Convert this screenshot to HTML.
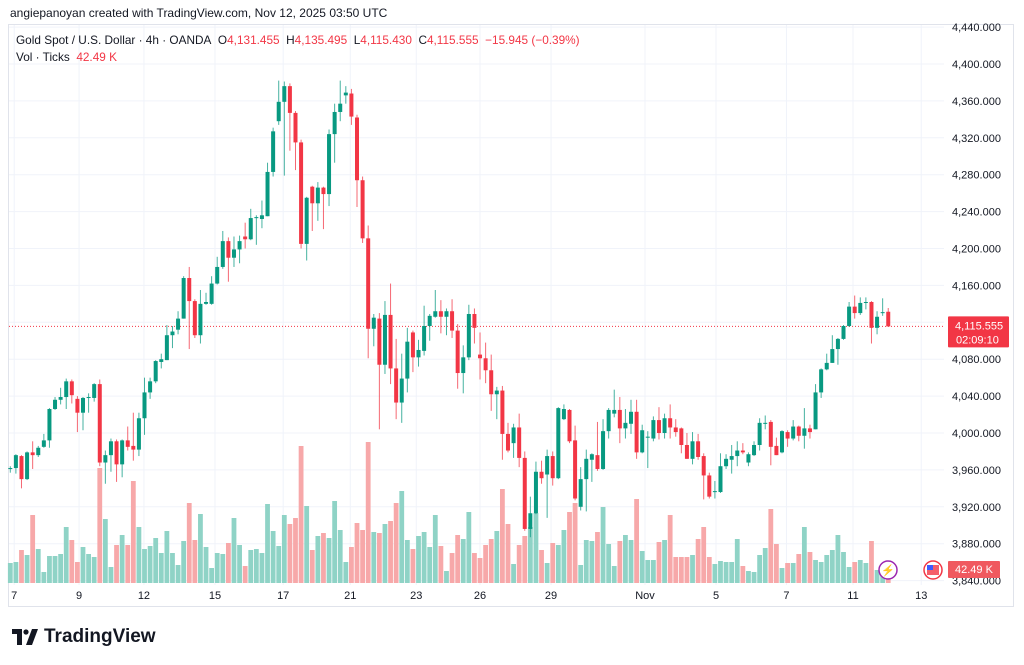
<!DOCTYPE html>
<html><head><meta charset="utf-8">
<style>
html,body{margin:0;padding:0;background:#fff;}
body{width:1024px;height:665px;overflow:hidden;position:relative;font-family:"Liberation Sans",sans-serif;}
#credit{position:absolute;left:10px;top:6px;font-size:12px;color:#131722;}
#legend1{position:absolute;left:16px;top:33px;font-size:11.8px;color:#131722;white-space:nowrap;}
#legend2{position:absolute;left:16px;top:50px;font-size:11.8px;color:#131722;}
.r{color:#f23645;}
#logo{position:absolute;left:12px;top:626px;font-size:19px;font-weight:bold;color:#131722;display:flex;align-items:center;gap:6px;}
svg{position:absolute;left:0;top:0;}
</style></head><body>
<div id="credit">angiepanoyan created with TradingView.com, Nov 12, 2025 03:50 UTC</div>
<svg id="chart" width="1024" height="665"></svg>
<div id="legend1">Gold Spot / U.S. Dollar · 4h · OANDA&nbsp; O<span class="r">4,131.455</span>&nbsp; H<span class="r">4,135.495</span>&nbsp; L<span class="r">4,115.430</span>&nbsp; C<span class="r">4,115.555</span>&nbsp; <span class="r">−15.945 (−0.39%)</span></div>
<div id="legend2">Vol · Ticks&nbsp; <span class="r">42.49 K</span></div>
<div id="logo"><svg width="26" height="16" viewBox="0 0 26 16" style="position:static"><path d="M0 0h10v16H5V5H0z M14 16l6-16h6l-6 16z" fill="#131722"/><circle cx="14" cy="3" r="2.6" fill="#131722"/></svg><span>TradingView</span></div>
<script>
const ohlc = [
[3961,3964,3957,3962],[3962,3977,3956,3976],[3975,3976,3940,3950],[3950,3980,3949,3979],[3979,3991,3961,3976],
[3976,3986,3974,3984],[3985,3999,3984,3992],[3992,4027,3984,4026],[4026,4039,4025,4036],[4036,4049,4031,4039],
[4039,4059,4026,4056],[4056,4058,4032,4041],[4037,4040,4001,4022],[4022,4039,4003,4038],[4038,4043,4022,4039],
[4038,4054,4034,4053],[4053,4058,3964,3968],[3968,3981,3945,3976],[3976,3994,3958,3991],[3991,3993,3947,3966],
[3966,3993,3952,3992],[3992,4007,3981,3985],[3986,4022,3970,3982],[3982,4022,3975,4016],[4016,4060,3998,4044],
[4044,4060,4037,4056],[4056,4079,4054,4078],[4077,4086,4070,4080],[4079,4117,4079,4106],[4106,4116,4092,4110],
[4112,4132,4107,4124],[4124,4170,4124,4168],[4168,4180,4091,4143],[4143,4145,4103,4106],[4106,4155,4097,4140],
[4140,4152,4139,4142],[4140,4170,4139,4162],[4162,4191,4161,4180],[4180,4219,4178,4208],[4208,4212,4164,4190],
[4190,4213,4180,4199],[4199,4214,4184,4208],[4213,4228,4200,4210],[4210,4243,4209,4233],[4233,4236,4204,4234],
[4232,4252,4222,4236],[4235,4293,4235,4283],[4283,4331,4278,4327],[4338,4382,4334,4359],[4359,4381,4279,4376],
[4376,4379,4306,4347],[4347,4349,4285,4315],[4315,4318,4200,4205],[4205,4256,4187,4255],[4267,4268,4219,4249],
[4249,4272,4230,4266],[4266,4267,4221,4259],[4259,4329,4246,4324],[4324,4357,4293,4348],[4348,4382,4338,4357],
[4366,4376,4357,4369],[4368,4373,4334,4343],[4342,4345,4245,4274],[4274,4278,4206,4211],[4211,4225,4081,4113],
[4113,4129,4094,4125],[4124,4130,4004,4074],[4074,4143,4064,4128],[4128,4162,4053,4070],[4070,4102,4015,4033],
[4033,4086,4011,4059],[4059,4114,4044,4099],[4109,4111,4066,4082],[4082,4101,4072,4090],[4089,4138,4084,4116],
[4116,4129,4100,4127],[4126,4155,4125,4132],[4132,4144,4108,4126],[4126,4135,4106,4132],[4132,4145,4103,4111],
[4111,4118,4048,4065],[4065,4095,4043,4082],[4082,4139,4079,4129],[4129,4135,4097,4114],[4085,4109,4058,4081],
[4081,4098,4054,4068],[4068,4085,4024,4042],[4042,4050,4015,4046],[4046,4051,3971,3999],[3999,4011,3979,3981],
[3989,4010,3973,4006],[4006,4021,3963,3973],[3973,3980,3894,3896],[3896,3931,3887,3913],[3913,3969,3912,3958],
[3958,3970,3945,3951],[3955,3982,3908,3975],[3975,3980,3943,3951],[3951,4028,3950,4027],[4015,4031,4014,4026],
[4025,4026,3989,3991],[3992,4008,3927,3929],[3920,3963,3916,3950],[3950,3982,3915,3972],[3971,3978,3947,3977],
[3976,4012,3959,3961],[3961,4015,3960,4002],[4002,4027,3994,4025],[4021,4047,4017,4025],[4025,4039,3989,4005],
[4005,4026,3994,4011],[4010,4036,3999,4023],[4023,4036,3972,3979],[3979,4009,3978,4003],[3995,4002,3962,3996],
[3994,4018,3991,4014],[4014,4028,3993,4000],[4000,4021,3994,4016],[4016,4031,3994,4006],[4006,4015,3996,4001],
[4005,4006,3978,3987],[3987,4000,3972,3972],[3972,4001,3966,3991],[3991,3999,3971,3974],[3975,3978,3928,3954],
[3954,3957,3929,3931],[3936,3948,3929,3937],[3936,3978,3935,3964],[3964,3977,3961,3972],[3971,3987,3956,3975],
[3975,3991,3964,3981],[3981,3989,3977,3979],[3968,3979,3964,3977],[3976,3991,3975,3987],[3987,4016,3981,4011],
[4010,4019,4004,4011],[4012,4014,3965,3985],[3986,3995,3976,3976],[3979,4003,3978,4002],[4001,4003,3985,3994],
[3994,4014,3992,4007],[4007,4008,3991,3997],[3997,4027,3983,4005],[4005,4009,3994,4001],[4004,4053,4004,4044],
[4044,4070,4038,4069],[4069,4086,4068,4076],[4076,4106,4076,4091],[4091,4103,4074,4102],[4102,4117,4101,4116],
[4116,4142,4115,4137],[4137,4149,4124,4130],[4130,4147,4128,4141],[4141,4147,4134,4142],[4142,4143,4097,4114],
[4114,4132,4107,4126],[4131,4146,4127,4131],[4131.455,4135.495,4115.43,4115.555]
];
const volumeK = [80,84,132,112,272,136,44,108,108,116,224,172,84,144,116,104,460,256,64,152,192,152,408,224,136,148,180,120,208,120,72,168,320,172,276,144,60,120,116,160,
260,152,68,132,136,120,316,208,148,272,236,260,548,308,132,188,200,180,328,212,84,144,240,212,564,204,200,236,248,320,368,172,136,188,204,144,272,148,48,120,
192,176,284,120,100,152,176,208,376,236,76,152,188,224,280,132,80,160,152,212,284,320,72,172,168,204,304,156,68,168,192,172,336,128,92,92,164,172,272,104,
104,104,112,176,224,104,76,88,84,84,176,68,48,44,112,140,296,156,60,80,80,116,224,124,92,84,112,132,192,124,64,84,92,80,168,52,32,42.49];
const priceTicks = [4440,4400,4360,4320,4280,4240,4200,4160,4120,4080,4040,4000,3960,3920,3880,3840];
const dateLabels = ["7","9","12","15","17","21","23","26","29","Nov","5","7","11","13"];
const dateTickIndex = [0.7,12.3,23.9,36.6,48.8,60.8,72.6,84,96.7,113.5,126.2,138.8,150.7,162.9];
const lastPrice = 4115.555;

const NS="http://www.w3.org/2000/svg";
const svg=document.getElementById('chart');
const yOf=p=>433+(4000-p)*0.9225;
const xOf=i=>10.3+i*5.592;
const volBase=583, volScale=0.25;
function mk(tag,attrs,parent){const e=document.createElementNS(NS,tag);for(const k in attrs)e.setAttribute(k,attrs[k]);(parent||svg).appendChild(e);return e;}

const frame=mk('rect',{x:8.5,y:24.5,width:1005,height:582,fill:'none',stroke:'#e0e3eb'});


priceTicks.forEach(p=>{
  const g=mk('line',{x1:9,x2:944,y1:yOf(p),y2:yOf(p),stroke:'#f0f3fa'});
  
  
});
dateTickIndex.forEach(i=>{
  const g=mk('line',{x1:xOf(i),x2:xOf(i),y1:25,y2:585,stroke:'#f0f3fa'});
  
  
});
volumeK.forEach((v,i)=>{
  const up=ohlc[i][3]>=ohlc[i][0];
  const h=v*volScale;
  const b=mk('rect',{x:xOf(i)-2.4,y:volBase-h,width:4.8,height:h,fill:up?'#8fd3c6':'#f7a8a9'});
  
  
});
const lp=mk('line',{x1:9,x2:944,y1:yOf(lastPrice),y2:yOf(lastPrice),stroke:'#f23645','stroke-width':1,'stroke-dasharray':'1 2'});


ohlc.forEach((c,i)=>{
  const [o,h,l,cl]=c;const up=cl>=o;const col=up?'#089981':'#f23645';
  const x=xOf(i);
  const w=mk('line',{x1:x,x2:x,y1:yOf(h),y2:yOf(l),stroke:col,'stroke-width':1,opacity:0.75});
  
  
  const top=yOf(Math.max(o,cl)),bot=yOf(Math.min(o,cl));
  const r=mk('rect',{x:x-2,y:top,width:4,height:Math.max(1,bot-top),fill:col});
  
  
});
priceTicks.forEach(p=>{
  const t=mk('text',{x:952,y:yOf(p)+4,'font-size':11,fill:'#131722','font-family':'Liberation Sans, sans-serif'});
  t.textContent=p.toLocaleString('en-US')+'.000';
  
  
});
dateLabels.forEach((d,k)=>{
  const t=mk('text',{x:xOf(dateTickIndex[k]),y:599,'font-size':11,fill:'#131722','text-anchor':'middle','font-family':'Liberation Sans, sans-serif'});
  t.textContent=d;
  
  
});
const ly=yOf(lastPrice);
const badge=mk('rect',{x:948,y:ly-10,width:61,height:31,fill:'#f23645',rx:1});


const t1=mk('text',{x:955,y:ly+3,'font-size':11,fill:'#fff','font-family':'Liberation Sans, sans-serif'});t1.textContent='4,115.555';


const t2=mk('text',{x:956,y:ly+17,'font-size':11,fill:'#fff','font-family':'Liberation Sans, sans-serif'});t2.textContent='02:09:10';


const vb=mk('rect',{x:948,y:561,width:52,height:17,fill:'#f0595f',rx:1});


const vt=mk('text',{x:955,y:573,'font-size':11,fill:'#fff','font-family':'Liberation Sans, sans-serif'});vt.textContent='42.49 K';


const li=mk('circle',{cx:888,cy:570,r:9,fill:'#fff',stroke:'#9c27b0','stroke-width':1.5});


const lt=mk('text',{x:888,y:574,'font-size':11,fill:'#9c27b0','text-anchor':'middle'});lt.textContent='⚡';


const fl=mk('circle',{cx:933,cy:570,r:9,fill:'#fff',stroke:'#f23645','stroke-width':1.5});


const fi=mk('rect',{x:927,y:565,width:12,height:10,fill:'#f23645',opacity:0.8});


const fc=mk('rect',{x:927,y:565,width:6,height:5,fill:'#3d5afe'});


</script>
</body></html>
